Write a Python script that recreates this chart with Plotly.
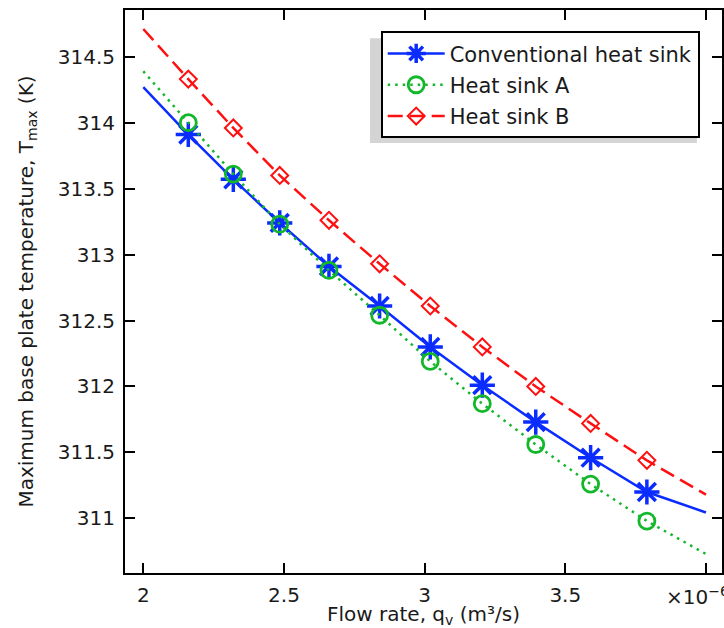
import plotly.graph_objects as go

# flow rate (x 1e-6 m^3/s) at the marked points, plus curve end points
flow = [2.16, 2.32, 2.485, 2.66, 2.84, 3.02, 3.205, 3.395, 3.59, 3.79]
flow_start, flow_end = 2.0, 4.0

# maximum base plate temperature (K)
conventional = [313.91, 313.57, 313.24, 312.91, 312.61, 312.30, 312.01, 311.73, 311.46, 311.20]
conventional_ends = [314.27, 311.045]
sink_a = [314.00, 313.61, 313.23, 312.88, 312.54, 312.19, 311.87, 311.56, 311.26, 310.98]
sink_a_ends = [314.39, 310.73]
sink_b = [314.33, 313.96, 313.60, 313.26, 312.93, 312.61, 312.30, 312.00, 311.72, 311.44]
sink_b_ends = [314.71, 311.18]

names = ["Conventional heat sink", "Heat sink A", "Heat sink B"]
x_ticks = [2, 2.5, 3, 3.5, 4]
x_ticklabels = ["2", "2.5", "3", "3.5", ""]
y_ticks = [311, 311.5, 312, 312.5, 313, 313.5, 314, 314.5]
y_ticklabels = ["311", "311.5", "312", "312.5", "313", "313.5", "314", "314.5"]

series = [
    (names[0], conventional, conventional_ends, "#0a2cff", "solid", "asterisk-open", 21, 3.5),
    (names[1], sink_a, sink_a_ends, "#12b82a", "2.5px,5px", "circle-open", 16, 2.8),
    (names[2], sink_b, sink_b_ends, "#ff1010", "15px,7px", "diamond-open", 13, 2),
]

FONT = "DejaVu Sans"

fig = go.Figure()
for i, (name, vals, ends, color, dash, symbol, msize, mwidth) in enumerate(series):
    line = dict(color=color, width=2.5, dash=dash)
    marker = dict(symbol=symbol, size=msize, color=color, line=dict(color=color, width=mwidth))
    fig.add_trace(go.Scatter(
        x=[flow_start] + flow + [flow_end], y=[ends[0]] + vals + [ends[1]],
        mode="lines", line=line, showlegend=False, hoverinfo="skip",
    ))
    fig.add_trace(go.Scatter(
        x=flow, y=vals, mode="markers", marker=marker, showlegend=False, name=name,
    ))
    # legend entry only
    fig.add_trace(go.Scatter(
        x=[None], y=[None], mode="lines+markers", line=line, marker=marker,
        name=name, legendgroup=f"g{i}",
    ))

axis_common = dict(
    showline=True, linecolor="black", linewidth=2, mirror="ticks",
    ticks="inside", ticklen=10, tickwidth=1.5, tickcolor="black",
    showgrid=False, zeroline=False, automargin=False,
    tickfont=dict(family=FONT, size=20, color="#1a1a1a"),
)

fig.update_xaxes(
    range=[1.935, 4.057], tickvals=x_ticks, ticktext=x_ticklabels,
    ticklabelstandoff=3,
    title=dict(text="Flow rate, q<sub>v</sub> (m³/s)", font=dict(family=FONT, size=20, color="#1a1a1a"), standoff=0),
    **axis_common,
)
fig.update_yaxes(
    range=[310.586, 314.854], tickvals=y_ticks, ticktext=y_ticklabels,
    ticklabelstandoff=4,
    title=dict(text="Maximum base plate temperature, T<sub>max</sub> (K)",
               font=dict(family=FONT, size=20, color="#1a1a1a"), standoff=19),
    **axis_common,
)

# legend drop shadow
fig.add_shape(type="rect", xref="paper", yref="paper",
              x0=0.4104, x1=0.958, y0=0.7638, y1=0.95,
              fillcolor="#d4d4d4", line=dict(width=0), layer="below")

fig.add_annotation(
    text="×10<sup>−6</sup>", xref="paper", yref="paper", x=0.903, y=-0.04,
    xanchor="left", yanchor="middle", showarrow=False,
    font=dict(family=FONT, size=20, color="#1a1a1a"),
)

fig.update_layout(
    width=724, height=628,
    margin=dict(l=125, r=2, t=10, b=55),
    paper_bgcolor="white", plot_bgcolor="white",
    font=dict(family=FONT, size=20, color="#1a1a1a"),
    legend=dict(
        x=0.4283, y=0.9622, xanchor="left", yanchor="top",
        bgcolor="white", bordercolor="black", borderwidth=2,
        font=dict(family=FONT, size=21, color="#1a1a1a"),
        traceorder="grouped", tracegroupgap=1, itemwidth=57,
    ),
    showlegend=True,
)

# drop the default page margin so the figure sits at the window's top-left corner
fig.write_html("out.html", config={"displayModeBar": False},
               post_script="document.body.style.margin='0';")
